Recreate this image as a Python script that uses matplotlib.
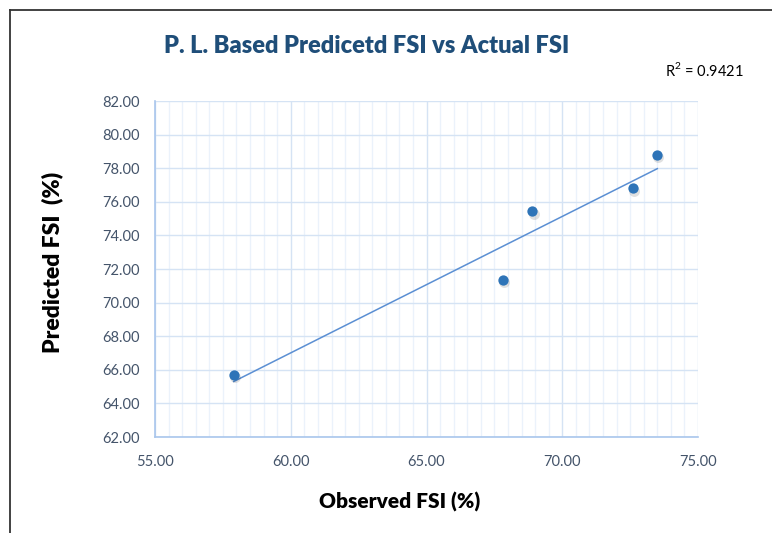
import numpy as np
import matplotlib
matplotlib.use('Agg')
import matplotlib.pyplot as plt
from matplotlib.ticker import MultipleLocator, FormatStrFormatter
from matplotlib.lines import Line2D

# data
observed = [57.9, 67.8, 68.9, 72.6, 73.5]
predicted = [65.7, 71.35, 75.45, 76.8, 78.8]
r2_label = 'R$^2$ = 0.9421'
title = 'P. L. Based Predicetd FSI vs Actual FSI'

plt.rcParams['font.family'] = ['Lato', 'DejaVu Sans']
plt.rcParams['mathtext.fontset'] = 'custom'
plt.rcParams['mathtext.rm'] = 'Lato'

fig = plt.figure(figsize=(7.72, 5.33), dpi=100)
ax = fig.add_axes([0.2008, 0.1801, 0.7034, 0.6304])

ax.set_xlim(55, 75)
ax.set_ylim(62, 82)
ax.xaxis.set_major_locator(MultipleLocator(5))
ax.xaxis.set_minor_locator(MultipleLocator(0.5))
ax.yaxis.set_major_locator(MultipleLocator(2))
ax.xaxis.set_major_formatter(FormatStrFormatter('%.2f'))
ax.yaxis.set_major_formatter(FormatStrFormatter('%.2f'))

ax.grid(which='major', color='#D5E3F4', lw=1.0)
ax.grid(which='minor', axis='x', color='#EBF2FB', lw=1.0)
ax.set_axisbelow(True)

for s in ['top', 'right']:
    ax.spines[s].set_visible(False)
for s in ['left', 'bottom']:
    ax.spines[s].set_color('#A9C6EC')
    ax.spines[s].set_linewidth(1.2)
ax.tick_params(which='both', length=0, labelsize=10.5, colors='#44546A')
ax.tick_params(axis='x', pad=13)
ax.tick_params(axis='y', pad=11)

# trendline
x = np.array(observed)
y = np.array(predicted)
m, b = np.polyfit(x, y, 1)
xs = np.array([x.min(), x.max()])
ax.plot(xs, m * xs + b, color='#5B8FD3', lw=1.1, zorder=2)

# markers with a soft shadow
ax.scatter(x + 0.04, y - 0.15, s=62, color='#000000', alpha=0.12, lw=0, zorder=3)
ax.scatter(x, y, s=55, color='#2E74B8', lw=0, zorder=4)

ax.set_xlabel('Observed FSI (%)', fontsize=15, fontweight='heavy')
ax.xaxis.set_label_coords(0.451, -0.165)
ax.set_ylabel('Predicted FSI  (%)', fontsize=16.5, fontweight='heavy')
ax.yaxis.set_label_coords(-0.17, 0.52)

fig.text(0.475, 0.914, title, ha='center', va='center', fontsize=17,
         fontweight='heavy', color='#1F4E79')
fig.text(0.862, 0.868, r2_label, ha='left', va='center', fontsize=10.5, color='#000000')

# outer frame (top and left edges visible)
fig.add_artist(Line2D([0.0135, 1.0], [0.981, 0.981], color='#333333', lw=1.3))
fig.add_artist(Line2D([0.0135, 0.0135], [0.0, 0.981], color='#333333', lw=1.3))

fig.savefig('out.png', dpi=100)
